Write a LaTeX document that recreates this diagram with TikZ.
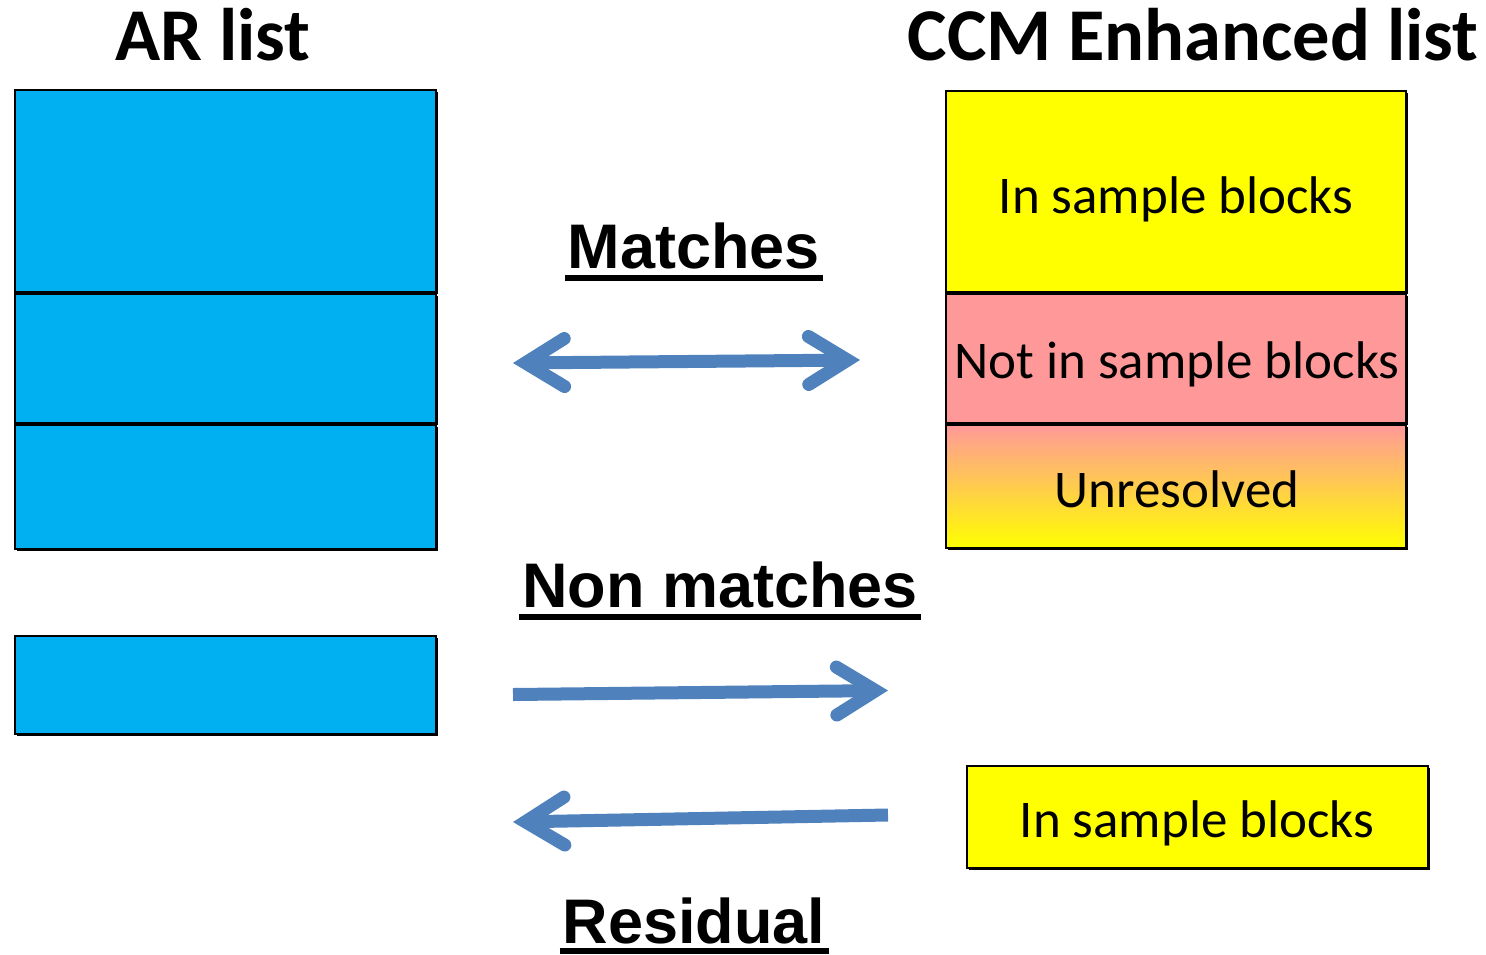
\documentclass[tikz,border=0pt]{standalone}
\usepackage{fontspec}
\setmainfont{Carlito}
\newfontfamily\arialfont{Liberation Sans}
\usetikzlibrary{arrows.meta,shadows}
\definecolor{arblue}{HTML}{00B0F0}
\definecolor{ccmyellow}{HTML}{FFFF00}
\definecolor{ccmpink}{HTML}{FF9999}
\definecolor{arrowblue}{HTML}{4F81BD}
\tikzset{
  box/.style={draw=black, line width=2pt, inner sep=0pt,
    drop shadow={shadow xshift=2pt, shadow yshift=-2pt, fill=black, opacity=1}},
  heading/.style={inner sep=0pt, anchor=base, font=\fontsize{74.5}{80}\selectfont\bfseries},
  boxtext/.style={inner sep=0pt, anchor=base, font=\fontsize{53}{60}\selectfont},
  label/.style={inner sep=0pt, anchor=base, font=\arialfont\fontsize{63}{70}\selectfont\bfseries},
  uline/.style={line width=6pt, shorten <=-3pt, shorten >=-3pt},
  barb/.tip={Straight Barb[length=39pt, width=48pt, line cap=round, line join=miter]},
  bigarrow/.style={draw=arrowblue, line width=13pt}
}
\begin{document}
\begin{tikzpicture}[x=1pt,y=-1pt]
\useasboundingbox (0,0) rectangle (1486,954);

% headings
\node[heading] (arh) at (213,60) {AR list};
\node[heading] (ccmh) at (1193,60) {CCM Enhanced list};

% AR list boxes
\node[box, fill=arblue, minimum width=421pt, minimum height=202pt] (ar1) at (225.5,191) {};
\node[box, fill=arblue, minimum width=421pt, minimum height=129pt] (ar2) at (225.5,358.5) {};
\node[box, fill=arblue, minimum width=421pt, minimum height=124pt] (ar3) at (225.5,487) {};
\node[box, fill=arblue, minimum width=421pt, minimum height=98pt] (ar4) at (225.5,685) {};

% CCM boxes
\node[box, fill=ccmyellow, minimum width=460pt, minimum height=201pt] (c1) at (1176,191.5) {};
\node[box, fill=ccmpink, minimum width=460pt, minimum height=129pt] (c2) at (1176,358.5) {};
\node[box, top color=ccmpink, bottom color=ccmyellow, minimum width=460pt, minimum height=123pt] (c3) at (1176,486.5) {};
\node[box, fill=ccmyellow, minimum width=461pt, minimum height=102pt] (c4) at (1197.5,817) {};

\node[boxtext] (t1) at (1176,213) {In sample blocks};
\node[boxtext] (t2) at (1177,378) {Not in sample blocks};
\node[boxtext] (t3) at (1177,507) {Unresolved};
\node[boxtext] (t4) at (1197,837) {In sample blocks};

% labels
\node[label] (lm) at (694,268) {Matches};
\node[label] (ln) at (720,607) {Non matches};
\node[label] (lr) at (694,943) {Residual};
\draw[uline] ([yshift=-10pt]lm.base west) -- ([yshift=-10pt]lm.base east);
\draw[uline] ([yshift=-10pt]ln.base west) -- ([yshift=-10pt]ln.base east);
\draw[uline] ([yshift=-8pt]lr.base west) -- ([yshift=-8pt]lr.base east);

% arrows
\coordinate (m1) at (513,363);
\coordinate (m2) at (860,360);
\coordinate (n1) at (513,694.5);
\coordinate (n2) at (888,690.5);
\coordinate (r1) at (888,815);
\coordinate (r2) at (513,822);
\draw[bigarrow, barb-barb] (m1) -- (m2);
\draw[bigarrow, -barb] (n1) -- (n2);
\draw[bigarrow, -barb] (r1) -- (r2);
\end{tikzpicture}
\end{document}
